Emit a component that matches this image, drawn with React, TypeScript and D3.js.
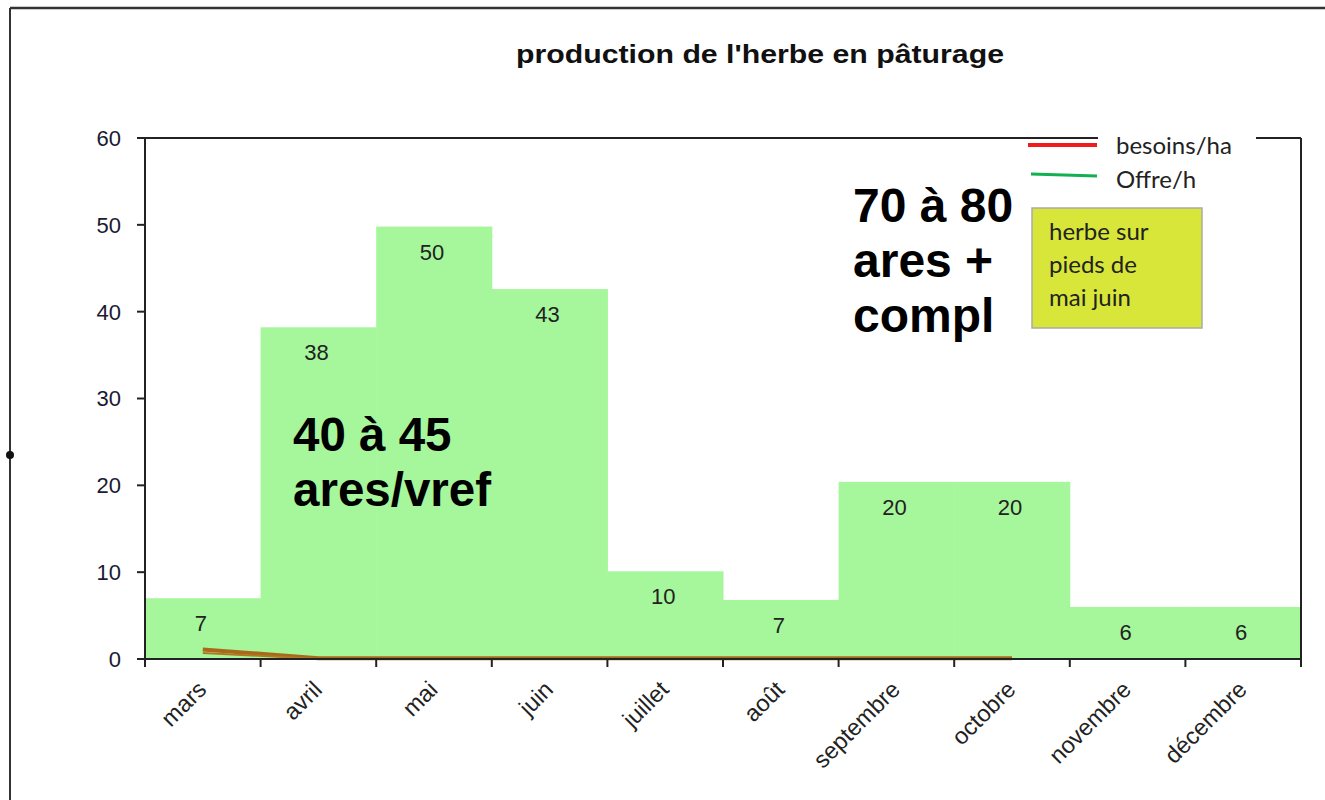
import React from 'react'
import * as d3 from 'd3'

// data
const months = ['mars', 'avril', 'mai', 'juin', 'juillet', 'août', 'septembre', 'octobre', 'novembre', 'décembre']
const production = [7, 38.2, 49.8, 42.6, 10.1, 6.8, 20.4, 20.4, 6, 6]
const besoinsMonths = ['mars', 'avril', 'mai', 'juin', 'juillet', 'août', 'septembre', 'octobre']
const besoins = [1.1, 0.1, 0.1, 0.1, 0.1, 0.1, 0.1, 0.1]
const offre = [0.7, 0, 0, 0, 0, 0, 0, 0]
const yTicks = [0, 10, 20, 30, 40, 50, 60]
const noteLeft = ['40 à 45', 'ares/vref']
const noteRight = ['70 à 80', 'ares +', 'compl']
const boxLines = ['herbe sur', 'pieds de', 'mai juin']

const W = 1325
const H = 800
const plot = { left: 145, right: 1301, top: 138, bottom: 659 }
const arial = '"Liberation Sans", Arial, sans-serif'
const calibri = 'Lato, "Open Sans", sans-serif'

const App = () => {
  const x = d3.scaleBand().domain(months).range([plot.left, plot.right]).padding(0)
  const y = d3.scaleLinear().domain([0, 60]).range([plot.bottom, plot.top])
  const bw = x.bandwidth()
  const cx = (m) => (x(m) as number) + bw / 2

  const line = d3.line<number>()
    .x((d, i) => cx(besoinsMonths[i]))
    .y((d) => y(d))

  const bounds = months.map((m) => x(m) as number).concat([plot.right])

  return (
    <svg width={W} height={H} style={{ position: 'absolute', left: 0, top: 0, background: '#fff' }}>
      {/* outer frame */}
      <line x1={10} y1={8} x2={W} y2={8} stroke="#333" strokeWidth={2.5} />
      <line x1={10} y1={8} x2={10} y2={H} stroke="#333" strokeWidth={2} />
      <circle cx={10} cy={455} r={4} fill="#111" />

      <text x={760} y={63} textAnchor="middle" fontFamily={arial} fontWeight="bold" fontSize={26}
        textLength={488} lengthAdjust="spacingAndGlyphs" fill="#111">
        production de l'herbe en pâturage
      </text>

      {/* step area as bars */}
      {months.map((m, i) => (
        <rect key={m} x={x(m)} y={y(production[i])} width={bw + 0.5} height={y(0) - y(production[i])} fill="#a6f69c" />
      ))}

      {/* lines */}
      <path d={line(besoins) || ''} fill="none" stroke="#a86a1a" strokeWidth={4} />
      <path d={line(offre) || ''} fill="none" stroke="#b07a24" strokeWidth={2} />

      {/* plot frame */}
      <line x1={plot.left} y1={plot.top} x2={plot.right} y2={plot.top} stroke="#222" strokeWidth={2} />
      <line x1={plot.right} y1={plot.top} x2={plot.right} y2={plot.bottom + 8} stroke="#222" strokeWidth={2} />
      <line x1={plot.left} y1={plot.top} x2={plot.left} y2={plot.bottom + 8} stroke="#222" strokeWidth={2} />
      <line x1={plot.left - 8} y1={plot.bottom} x2={plot.right} y2={plot.bottom} stroke="#222" strokeWidth={2} />

      {/* y axis */}
      {yTicks.map((t) => (
        <g key={t}>
          <line x1={plot.left - 8} x2={plot.left} y1={y(t)} y2={y(t)} stroke="#222" strokeWidth={2} />
          <text x={121} y={y(t)} dy="0.36em" textAnchor="end" fontFamily={arial} fontSize={22} fill="#1a1a33">{t}</text>
        </g>
      ))}

      {/* x axis */}
      {bounds.map((b, i) => (
        <line key={i} x1={b} x2={b} y1={plot.bottom} y2={plot.bottom + 8} stroke="#222" strokeWidth={2} />
      ))}
      {months.map((m) => (
        <text key={m} transform={`translate(${cx(m) + 5},${plot.bottom + 32}) rotate(-45)`} textAnchor="end"
          fontFamily={arial} fontSize={23.5} fill="#222">{m}</text>
      ))}

      {/* value labels */}
      {months.map((m, i) => (
        <text key={m} x={cx(m) - 2} y={y(production[i]) + 33} textAnchor="middle" fontFamily={arial} fontSize={22} fill="#222">
          {d3.format('.0f')(production[i])}
        </text>
      ))}

      {/* annotations */}
      {noteLeft.map((s, i) => (
        <text key={s} x={293} y={451 + i * 55} fontFamily={arial} fontWeight="bold" fontSize={47.5} fill="#000">{s}</text>
      ))}
      {noteRight.map((s, i) => (
        <text key={s} x={853} y={222 + i * 55} fontFamily={arial} fontWeight="bold" fontSize={48} fill="#000">{s}</text>
      ))}

      {/* legend */}
      <rect x={1098} y={128} width={158} height={68} fill="#fff" />
      <line x1={1028} x2={1097} y1={145} y2={145} stroke="#f01c1c" strokeWidth={4} />
      <line x1={1031} x2={1097} y1={174} y2={176} stroke="#12b050" strokeWidth={3} />
      <text x={1116} y={154} fontFamily={calibri} fontSize={24} fill="#222">besoins/ha</text>
      <text x={1116} y={188} fontFamily={calibri} fontSize={24} fill="#222">Offre/h</text>

      {/* yellow box */}
      <rect x={1032} y={208} width={170} height={120} fill="#d8e639" stroke="#aaa" strokeWidth={1.5} />
      {boxLines.map((s, i) => (
        <text key={s} x={1049} y={240 + i * 33} fontFamily={calibri} fontSize={24} fill="#222">{s}</text>
      ))}
    </svg>
  )
}

export default App
